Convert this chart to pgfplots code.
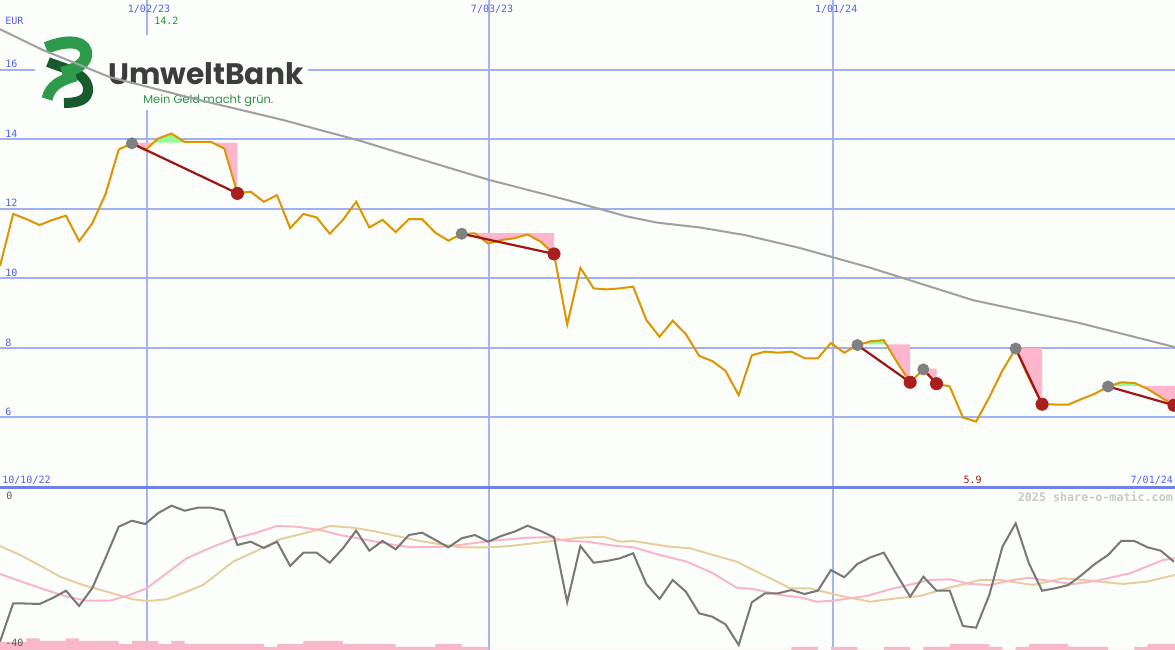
\documentclass[border=0pt]{standalone}
\usepackage{fontspec}
\usepackage{pgfplots}
\pgfplotsset{compat=1.18}
\newfontfamily\mono{DejaVu Sans Mono}
\newfontfamily\poppins{Poppins}

\definecolor{bg}{RGB}{252,254,252}
\definecolor{gridh}{RGB}{160,176,240}
\definecolor{gridv}{RGB}{165,180,242}
\definecolor{sepblue}{RGB}{112,128,232}
\definecolor{labelblue}{RGB}{80,96,240}
\definecolor{pricecol}{RGB}{220,150,0}
\definecolor{macol}{RGB}{160,160,160}
\definecolor{redline}{RGB}{160,20,20}
\definecolor{reddot}{RGB}{170,30,30}
\definecolor{greydot}{RGB}{128,128,128}
\definecolor{pinkfill}{RGB}{255,182,204}
\definecolor{greenfill}{RGB}{150,250,150}
\definecolor{osc}{RGB}{120,120,120}
\definecolor{oscpink}{RGB}{250,180,200}
\definecolor{osctan}{RGB}{230,205,155}
\definecolor{barpink}{RGB}{250,182,202}
\definecolor{logolight}{RGB}{45,155,75}
\definecolor{logodark}{RGB}{25,90,45}
\definecolor{logogrey}{RGB}{60,60,60}
\definecolor{logogreen}{RGB}{45,145,70}

\tikzset{lbl/.style={font=\mono\fontsize{5.7}{6}\selectfont, text=labelblue, inner sep=0pt}}

\begin{document}
\begin{tikzpicture}
\fill[bg] (0,0) rectangle (23.5cm,13cm);

% grid of the price panel
\begin{axis}[at={(0,3.26cm)}, anchor=south west, scale only axis,
    width=23.5cm, height=9.74cm,
    xmin=0, xmax=89.08, ymin=4, ymax=18,
    axis line style={draw=none}, tick style={draw=none},
    xtick={11.14,37.07,63.15}, ytick={6,8,...,16},
    xticklabels={}, yticklabels={},
    xmajorgrids, ymajorgrids,
    x grid style={gridv, line width=0.8pt},
    y grid style={gridh, line width=1.15pt}]
  \addplot[draw=none] coordinates {(0,10) (89,10)};
\end{axis}

% logo (pixel coordinates)
\begin{scope}[yshift=13cm, x=0.02cm, y=-0.02cm]
  \fill[bg] (35,35) rectangle (308,110);
  \draw[logodark, line width=0.2cm] (48,62) .. controls (62,68) and (86,72) .. (88,88)
        .. controls (89,100) and (78,103) .. (64,103);
  \draw[logolight, line width=0.22cm] (47,99) .. controls (50,86) and (60,80) .. (76,76);
  \draw[logolight, line width=0.24cm] (46,48) .. controls (70,38) and (88,42) .. (86,56)
        .. controls (84,66) and (72,70) .. (62,73);
  \node[anchor=base west, inner sep=0pt, text=logogrey] at (108,84)
        {\resizebox{3.9cm}{!}{\poppins\bfseries UmweltBank}};
  \node[anchor=base west, inner sep=0pt, text=logogreen] at (143,103)
        {\resizebox{2.6cm}{!}{\poppins Mein Geld macht grün.}};
\end{scope}

% price panel data
\begin{axis}[at={(0,3.26cm)}, anchor=south west, scale only axis,
    width=23.5cm, height=9.74cm,
    xmin=0, xmax=89.08, ymin=4, ymax=18, hide axis]
  % signal areas
  \addplot[fill=pinkfill, draw=none] coordinates {(10,13.88) (11,13.68) (11.65,13.9) (10,13.9)} -- cycle;
  \addplot[fill=greenfill, draw=none] coordinates {(11.65,13.9) (12,14.02) (13,14.16) (14,13.92) (15,13.92) (16,13.92) (16.1,13.9)} -- cycle;
  \addplot[fill=pinkfill, draw=none] coordinates {(16.1,13.9) (17,13.73) (18,12.44) (18,13.9)} -- cycle;
  \addplot[fill=pinkfill, draw=none] coordinates {(35,11.30) (42,11.30) (42,10.70) (41,11.05) (40,11.26) (39,11.15) (38,11.10) (37,11.0) (36,11.29) (35,11.28)} -- cycle;
  \addplot[fill=greenfill, draw=none] coordinates {(65.18,8.1) (66,8.19) (67,8.22) (67.19,8.1)} -- cycle;
  \addplot[fill=pinkfill, draw=none] coordinates {(67.19,8.1) (68,7.59) (69,7.01) (69,8.1)} -- cycle;
  \addplot[fill=pinkfill, draw=none] coordinates {(70,7.38) (71,6.97) (71,7.4) (70,7.4)} -- cycle;
  \addplot[fill=pinkfill, draw=none] coordinates {(77,7.98) (78,7.13) (79,6.38) (79,8.0) (77,8.0)} -- cycle;
  \addplot[fill=greenfill, draw=none] coordinates {(84.17,6.91) (85,7.01) (86,6.99) (86.47,6.91)} -- cycle;
  \addplot[fill=pinkfill, draw=none] coordinates {(86.47,6.91) (87,6.82) (88,6.58) (89,6.35) (89.1,6.33) (89.1,6.91)} -- cycle;

  % moving average
  \addplot[macol, line width=1.15pt] coordinates {
    (0,17.16) (3.26,16.56) (8.34,15.78) (15.16,15.12) (21.46,14.55) (23.5,14.34)
    (27.14,13.97) (30.33,13.60) (37.15,12.82) (42.99,12.25) (47.5,11.78) (49.81,11.60)
    (53.07,11.46) (56.5,11.24) (60.65,10.87) (66,10.30) (73.77,9.37) (81.88,8.71)
    (89.08,8.02)};

  % weekly close
  \addplot[pricecol, line width=1.15pt] coordinates {
    (0,10.35) (1,11.85) (2,11.70) (3,11.53) (4,11.68) (5,11.80) (6,11.07) (7,11.58)
    (8,12.42) (9,13.70) (10,13.88) (11,13.68) (12,14.02) (13,14.16) (14,13.92)
    (15,13.92) (16,13.92) (17,13.73) (18,12.44) (19,12.49) (20,12.20) (21,12.39)
    (22,11.44) (23,11.85) (24,11.75) (25,11.28) (26,11.68) (27,12.20) (28,11.46)
    (29,11.68) (30,11.33) (31,11.70) (32,11.70) (33,11.31) (34,11.08) (35,11.28)
    (36,11.29) (37,11.00) (38,11.10) (39,11.15) (40,11.26) (41,11.05) (42,10.70)
    (43,8.67) (44,10.30) (45,9.71) (46,9.68) (47,9.71) (48,9.76) (49,8.80)
    (50,8.32) (51,8.78) (52,8.39) (53,7.77) (54,7.62) (55,7.34) (56,6.64)
    (57,7.79) (58,7.89) (59,7.86) (60,7.89) (61,7.70) (62,7.70) (63,8.14)
    (64,7.86) (65,8.08) (66,8.19) (67,8.22) (68,7.59) (69,7.01) (70,7.38)
    (71,6.97) (72,6.89) (73,6.00) (74,5.88) (75,6.58) (76,7.35) (77,7.98)
    (78,7.13) (79,6.38) (80,6.37) (81,6.37) (82,6.53) (83,6.68) (84,6.89)
    (85,7.01) (86,6.99) (87,6.82) (88,6.58) (89,6.35)};

  % signal lines
  \addplot[redline, line width=1.25pt] coordinates {(10,13.88) (18,12.44)};
  \addplot[redline, line width=1.25pt] coordinates {(35,11.28) (42,10.70)};
  \addplot[redline, line width=1.25pt] coordinates {(65,8.08) (69,7.01)};
  \addplot[redline, line width=1.25pt] coordinates {(70,7.38) (71,6.97)};
  \addplot[redline, line width=1.25pt] coordinates {(77,7.98) (79,6.38)};
  \addplot[redline, line width=1.25pt] coordinates {(84,6.89) (89,6.35)};

  \addplot[only marks, mark=*, mark size=3.2pt, greydot] coordinates {
    (10,13.88) (35,11.28) (65,8.08) (70,7.38) (77,7.98) (84,6.89)};
  \addplot[only marks, mark=*, mark size=3.5pt, reddot] coordinates {
    (18,12.44) (42,10.70) (69,7.01) (71,6.97) (79,6.38) (89,6.35)};
\end{axis}

% indicator panel
\begin{axis}[at={(0,0)}, anchor=south west, scale only axis,
    width=23.5cm, height=3.26cm,
    xmin=0, xmax=89.08, ymin=-40, ymax=0,
    axis line style={draw=none}, tick style={draw=none},
    xtick={11.14,37.07,63.15}, ytick=\empty, xticklabels={},
    xmajorgrids, x grid style={gridv, line width=0.8pt}]
  \addplot[const plot, fill=barpink, draw=none] coordinates {
    (0,-40) (0,-38.04) (2,-37.13) (3,-37.79) (5,-37.13) (6,-37.79) (9,-38.53)
    (10,-37.79) (12,-38.53) (13,-37.79) (14,-38.53) (20,-39.26) (21,-38.53)
    (23,-37.79) (26,-38.53) (30,-39.26) (33,-38.53) (35,-39.26) (37,-40)
    (60,-39.26) (62,-40) (63,-39.26) (65,-40) (67,-39.26) (69,-40) (70,-39.26)
    (72,-38.53) (75,-39.26) (76,-40) (77,-39.26) (78,-38.53) (81,-39.26)
    (84,-40) (86,-39.26) (87,-38.53) (89.08,-38.53) (89.08,-40)} -- cycle;

  \addplot[osctan, line width=1.1pt] coordinates {
    (0,-14.48) (1.52,-16.69) (3.28,-19.71) (4.55,-22.01) (6.29,-24.05) (8.09,-25.69)
    (10.08,-27.56) (11.12,-27.98) (12.64,-27.56) (14.15,-25.69) (15.39,-24.05)
    (17.66,-18.33) (19.71,-15.29) (21.23,-12.83) (23.25,-11.21) (25.02,-9.57)
    (26.76,-9.99) (28.56,-10.97) (30.33,-12.2) (31.84,-13.25) (34.87,-14.80)
    (37.15,-14.80) (38.67,-14.48) (41.45,-13.42) (43.97,-12.44) (45.72,-12.20)
    (47.0,-13.42) (47.99,-13.25) (50.8,-14.65) (52.31,-15.04) (54.06,-16.69)
    (55.85,-18.33) (57.62,-21.18) (59.14,-23.6) (59.89,-24.86) (61.41,-24.86)
    (63.43,-26.50) (65.96,-28.15) (67.98,-27.31) (69.75,-26.75) (71.77,-24.86)
    (74.3,-22.82) (75.81,-22.82) (78.32,-24.05) (80.59,-22.40) (82.64,-22.99)
    (85.14,-23.80) (86.94,-23.24) (89.08,-21.60)};

  \addplot[oscpink, line width=1.1pt] coordinates {
    (0,-21.35) (3.03,-24.79) (5.06,-26.92) (6.57,-27.90) (8.34,-27.90) (9.61,-26.75)
    (11.12,-24.86) (12.64,-21.18) (14.15,-17.50) (16.15,-14.65) (17.66,-12.76)
    (19.46,-11.21) (20.98,-9.57) (22.49,-9.74) (24.26,-10.55) (25.78,-11.78)
    (27.8,-13.0) (30.33,-14.48) (31.31,-14.80) (33.87,-14.65) (35.38,-13.99)
    (37.38,-13.18) (39.93,-12.44) (41.7,-12.34) (42.96,-13.25) (44.48,-13.42)
    (46.76,-14.48) (48.01,-14.80) (50.04,-16.69) (52.06,-18.33) (54.06,-21.18)
    (55.85,-24.71) (57.09,-25.03) (59.14,-26.50) (60.65,-27.07) (61.92,-28.15)
    (63.15,-27.90) (65.71,-26.75) (67.48,-25.10) (70.51,-22.82) (72.02,-22.65)
    (73.54,-23.80) (75.06,-24.05) (76.8,-22.82) (78.09,-22.26) (79.36,-22.99)
    (81.35,-23.80) (83.15,-22.99) (85.67,-21.18) (88.17,-17.91) (89.08,-17.50)};

  \addplot[osc, line width=1.15pt] coordinates {
    (0,-37.96) (1,-28.54) (2,-28.6) (3,-28.71) (4,-27.24) (5,-25.45) (6,-29.20)
    (7,-24.79) (8,-17.42) (9,-9.74) (10,-8.27) (11,-9.08) (12,-6.38) (13,-4.59)
    (14,-5.82) (15,-5.08) (16,-5.08) (17,-5.82) (18,-14.23) (19,-13.42) (20,-14.97)
    (21,-13.42) (22,-19.39) (23,-16.12) (24,-16.12) (25,-18.58) (26,-15.04)
    (27,-10.72) (28,-15.63) (29,-13.25) (30,-15.29) (31,-11.78) (32,-11.21)
    (33,-13.0) (34,-14.8) (35,-12.59) (36,-11.78) (37,-13.42) (38,-12.02)
    (39,-10.97) (40,-9.50) (41,-10.80) (42,-12.34) (43,-28.29) (44,-14.48)
    (45,-18.58) (46,-18.16) (47,-17.50) (48,-16.27) (49,-23.80) (50,-27.48)
    (51,-22.82) (52,-25.69) (53,-31.0) (54,-31.83) (55,-33.69) (56,-38.77)
    (57,-28.29) (58,-26.09) (59,-26.09) (60,-25.28) (61,-26.26) (62,-25.45)
    (63,-20.37) (64,-22.16) (65,-18.90) (66,-17.25) (67,-16.12) (68,-21.60)
    (69,-26.92) (70,-22.01) (71,-25.45) (72,-25.45) (73,-34.11) (74,-34.53)
    (75,-26.50) (76,-14.65) (77,-8.91) (78,-18.72) (79,-25.45) (80,-24.86)
    (81,-24.05) (82,-21.60) (83,-18.90) (84,-16.69) (85,-13.25) (86,-13.25)
    (87,-14.80) (88,-15.63) (89,-18.33)};
\end{axis}

% separator and texts (pixel coordinates)
\begin{scope}[yshift=13cm, x=0.02cm, y=-0.02cm]
  \draw[sepblue, line width=1.7pt] (0,487) -- (1175,487);
  \node[lbl, anchor=base west] at (5,25) {EUR};
  \node[lbl, anchor=base west] at (5,67.5) {16};
  \node[lbl, anchor=base west] at (5,137) {14};
  \node[lbl, anchor=base west] at (5,206.5) {12};
  \node[lbl, anchor=base west] at (5,276) {10};
  \node[lbl, anchor=base west] at (5,346) {8};
  \node[lbl, anchor=base west] at (5,415.5) {6};
  \node[lbl, anchor=base] at (149,13) {1/02/23};
  \node[lbl, anchor=base] at (492,13) {7/03/23};
  \node[lbl, anchor=base] at (836,13) {1/01/24};
  \node[lbl, anchor=base west, text={rgb,255:red,40;green,150;blue,40}] at (154,25) {14.2};
  \node[lbl, anchor=base west] at (2,483) {10/10/22};
  \node[lbl, anchor=base west, text={rgb,255:red,150;green,20;blue,20}] at (963,483) {5.9};
  \node[lbl, anchor=base east] at (1173,483) {7/01/24};
  \node[anchor=base east, inner sep=0pt, text={rgb,255:red,200;green,200;blue,200},
        font=\mono\bfseries\fontsize{6.66}{7}\selectfont] at (1173,501) {2025 share-o-matic.com};
  \node[lbl, anchor=base west, text={rgb,255:red,90;green,90;blue,90}] at (6,499) {0};
  \node[lbl, anchor=base west, text={rgb,255:red,90;green,90;blue,90}] at (5,646) {-40};
\end{scope}

\pgfresetboundingbox
\path[use as bounding box] (0,0) rectangle (23.5cm,13cm);
\end{tikzpicture}
\end{document}
